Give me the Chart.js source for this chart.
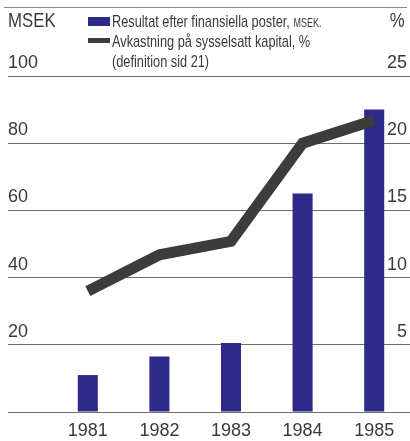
<!DOCTYPE html>
<html>
<head>
<meta charset="utf-8">
<script src="https://cdn.jsdelivr.net/npm/chart.js@4"></script>
<style>
  body { margin: 0; background: #fff; }
  #wrap { position: relative; width: 410px; height: 441px; font-family: "Liberation Sans", Arial, sans-serif; color: #3a3a3a; }
  #chart { position: absolute; left: 0; top: 0; }
  .rule { position: absolute; left: 4px; top: 7px; width: 403px; height: 0; border-top: 1px solid #8a8a8a; }
  .unit { position: absolute; top: 7px; font-size: 21px; line-height: 26px; transform: scaleX(0.8); }
  .box { position: absolute; left: 88px; width: 22px; }
  .leg { position: absolute; left: 112px; font-size: 17px; line-height: 20px; white-space: nowrap; transform: scaleX(0.75); transform-origin: 0 0; }
</style>
</head>
<body>
<div id="wrap">
  <canvas id="chart" width="410" height="441"></canvas>
  <div class="rule"></div>
  <div class="unit" style="left:8px;transform-origin:0 0">MSEK</div>
  <div class="unit" style="right:5px;transform-origin:100% 0">%</div>
  <div class="box" style="top:17px;height:9px;background:#2e2a8a"></div>
  <div class="box" style="top:38px;height:5px;background:#3b3d3b"></div>
  <div class="leg" style="top:12px">Resultat efter finansiella poster, <span style="font-size:12px">MSEK.</span></div>
  <div class="leg" style="top:32px">Avkastning på sysselsatt kapital, %</div>
  <div class="leg" style="top:52px">(definition sid 21)</div>
</div>
<script>
// DATA
const years = ['1981', '1982', '1983', '1984', '1985'];
const resultatMsek = [11, 16.5, 20.5, 65, 90];
const avkastningPct = [9.0, 11.7, 12.7, 20.0, 21.7];

const TEXT = '#3a3a3a';
const FONT = "'Liberation Sans', Arial, sans-serif";

const chart = new Chart(document.getElementById('chart'), {
  data: {
    labels: years,
    datasets: [
      {
        type: 'line',
        label: 'Avkastning på sysselsatt kapital, %',
        data: avkastningPct,
        yAxisID: 'y1',
        borderColor: '#3b3d3b',
        borderWidth: 11,
        pointRadius: 0,
        tension: 0,
        order: 0
      },
      {
        type: 'bar',
        label: 'Resultat efter finansiella poster, MSEK.',
        data: resultatMsek,
        yAxisID: 'y',
        backgroundColor: '#2e2a8a',
        categoryPercentage: 1,
        barPercentage: 0.28,
        order: 1
      }
    ]
  },
  options: {
    responsive: false,
    animation: false,
    layout: { padding: { top: 76, left: 8, right: 0, bottom: 0 } },
    plugins: { legend: { display: false }, tooltip: { enabled: false } },
    scales: {
      x: {
        afterFit: s => { s.height = 29; },
        grid: { display: false, drawTicks: false },
        border: { display: false },
        ticks: { color: TEXT, padding: 9, font: { family: FONT, size: 18, lineHeight: 1.15 } }
      },
      y: {
        position: 'left',
        min: 0, max: 100,
        afterFit: s => { s.width = 44; },
        border: { display: false },
        grid: { color: '#6e6e6e', lineWidth: 1, tickLength: 44 },
        ticks: {
          stepSize: 20, crossAlign: 'far', labelOffset: -13, color: TEXT,
          font: { family: FONT, size: 18 },
          callback: v => v === 0 ? '' : v
        }
      },
      y1: {
        position: 'right',
        min: 0, max: 25,
        afterFit: s => { s.width = 0; },
        border: { display: false },
        grid: { display: false },
        ticks: {
          stepSize: 5, mirror: true, padding: -3, labelOffset: -13, color: TEXT,
          font: { family: FONT, size: 18 },
          callback: v => v === 0 ? '' : v
        }
      }
    }
  }
});
</script>
</body>
</html>
